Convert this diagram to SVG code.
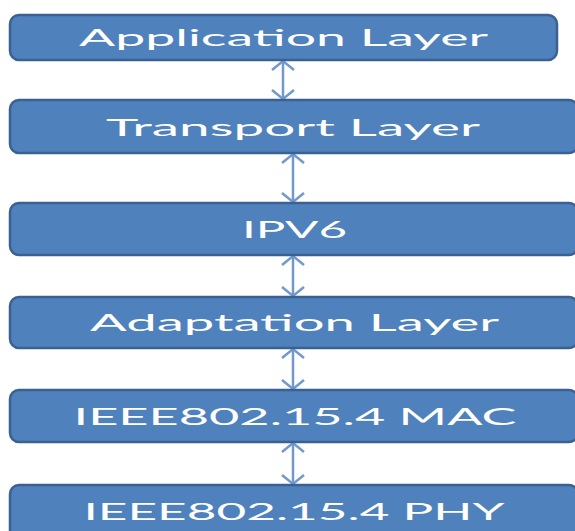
<svg xmlns="http://www.w3.org/2000/svg" width="575" height="531" viewBox="0 0 575 531">
<defs>
<style>
.box{fill:#4f81bd;stroke:#3b6192;stroke-width:2.5}
.lbl{fill:#ffffff;font-family:Lato,"Open Sans","Liberation Sans",sans-serif;font-size:24px;text-anchor:middle}
.conn{stroke:#7199cc;stroke-width:2.5;fill:none}
</style>
<marker id="head" viewBox="0 0 12 24" refX="10" refY="12" markerWidth="12" markerHeight="24" markerUnits="userSpaceOnUse" orient="auto-start-reverse">
<path d="M1 1 L10 12 L1 23" fill="none" stroke="#7199cc" stroke-width="2.5"/>
</marker>
</defs>
<rect width="575" height="531" fill="#ffffff"/>
<g id="connectors">
<line class="conn" x1="283" y1="61" x2="283" y2="99" marker-start="url(#head)" marker-end="url(#head)"/>
<line class="conn" x1="293" y1="154" x2="293" y2="202" marker-start="url(#head)" marker-end="url(#head)"/>
<line class="conn" x1="293" y1="256" x2="293" y2="296" marker-start="url(#head)" marker-end="url(#head)"/>
<line class="conn" x1="293" y1="349" x2="293" y2="389" marker-start="url(#head)" marker-end="url(#head)"/>
<line class="conn" x1="293" y1="443" x2="293" y2="484" marker-start="url(#head)" marker-end="url(#head)"/>
</g>
<g id="application">
<rect class="box" x="10" y="15" width="547" height="45" rx="9"/>
<text class="lbl" x="283.5" y="45.5" textLength="409" lengthAdjust="spacingAndGlyphs">Application Layer</text>
</g>
<g id="transport">
<rect class="box" x="10" y="100" width="568" height="53" rx="9"/>
<text class="lbl" x="293" y="135.5" textLength="374" lengthAdjust="spacingAndGlyphs">Transport Layer</text>
</g>
<g id="ipv6">
<rect class="box" x="10" y="203" width="568" height="52" rx="9"/>
<text class="lbl" x="294.5" y="237.5" textLength="105" lengthAdjust="spacingAndGlyphs">IPV6</text>
</g>
<g id="adaptation">
<rect class="box" x="10" y="297" width="568" height="51" rx="9"/>
<text class="lbl" x="294.5" y="331" textLength="409" lengthAdjust="spacingAndGlyphs">Adaptation Layer</text>
</g>
<g id="mac">
<rect class="box" x="10" y="390" width="568" height="52" rx="9"/>
<text class="lbl" x="295" y="425" textLength="443" lengthAdjust="spacingAndGlyphs">IEEE802.15.4 MAC</text>
</g>
<g id="phy">
<rect class="box" x="10" y="485" width="568" height="60" rx="9"/>
<text class="lbl" x="294" y="520" textLength="421" lengthAdjust="spacingAndGlyphs">IEEE802.15.4 PHY</text>
</g>
</svg>
